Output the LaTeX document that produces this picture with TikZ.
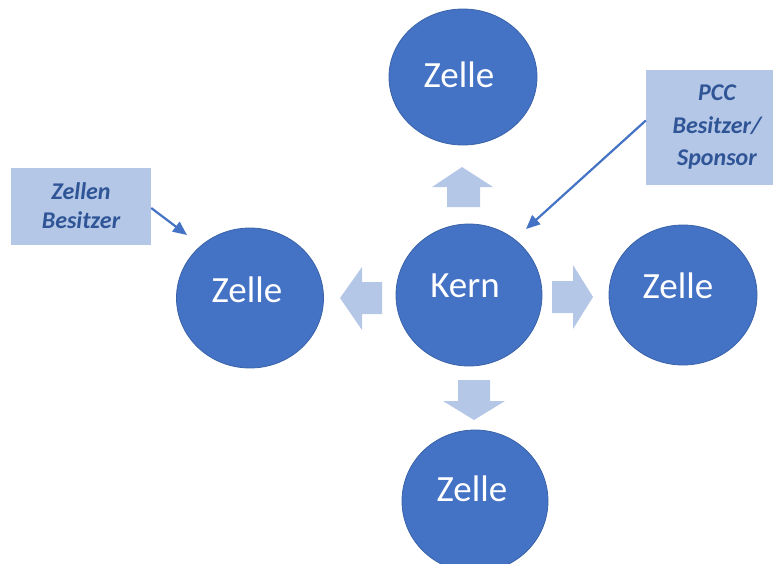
\documentclass[tikz,border=0pt]{standalone}
\usepackage{fontspec}
\setmainfont{Carlito}
\usetikzlibrary{shapes.geometric,arrows.meta}
\definecolor{cellblue}{HTML}{4472C4}
\definecolor{celledge}{HTML}{3A62A8}
\definecolor{lightblue}{HTML}{B4C7E7}
\definecolor{boxtext}{HTML}{2F5597}
\tikzset{
  cell/.style={ellipse, fill=cellblue, draw=celledge, line width=0.8pt, inner sep=0pt},
  celltext/.style={text=white, font=\fontsize{37}{40}\selectfont, inner sep=0pt},
  infobox/.style={rectangle, fill=lightblue, inner sep=0pt, align=center, text=boxtext},
  pointer/.style={draw=cellblue, line width=2.2pt, -{Triangle[length=14pt,width=12pt]}},
  blockarrow/.style={fill=lightblue}
}
\begin{document}
\begin{tikzpicture}[x=1pt,y=-1pt]
\useasboundingbox (0,0) rectangle (773,563);
% circles
\node[cell, minimum width=148pt, minimum height=136pt] (top) at (463,77) {};
\node[cell, minimum width=146pt, minimum height=142pt] (kern) at (469,295) {};
\node[cell, minimum width=147pt, minimum height=140pt] (left) at (250,298) {};
\node[cell, minimum width=148pt, minimum height=140pt] (right) at (683,295) {};
\node[cell, minimum width=146pt, minimum height=142pt] (bottom) at (475,501) {};
% texts
\node[celltext] (toptext) at (459,75) {Zelle};
\node[celltext] (kerntext) at (465,286) {Kern};
\node[celltext] (lefttext) at (247,290) {Zelle};
\node[celltext] (righttext) at (678,286) {Zelle};
\node[celltext] (bottomtext) at (472,489) {Zelle};
% block arrows
\fill[blockarrow] (447,207) -- (447,187) -- (432,187) -- (462,167) -- (493,187) -- (480,187) -- (480,207) -- cycle;
\fill[blockarrow] (382,282) -- (362,282) -- (362,267) -- (340,298) -- (362,330) -- (362,314) -- (382,314) -- cycle;
\fill[blockarrow] (552,281) -- (573,281) -- (573,265) -- (593,297) -- (573,329) -- (573,313) -- (552,313) -- cycle;
\fill[blockarrow] (458,380) -- (490,380) -- (490,401) -- (505,401) -- (474,420) -- (443,401) -- (458,401) -- cycle;
% info boxes
\node[infobox, minimum width=140pt, minimum height=77pt, font=\fontsize{24}{29}\selectfont\bfseries\itshape] (zb) at (81,206) {Zellen\\Besitzer};
\node[infobox, minimum width=142pt, minimum height=115pt, font=\fontsize{24}{32.5}\selectfont\bfseries\itshape] (pb) at (717,127.5) {PCC\\Besitzer/\\Sponsor};
% pointers
\coordinate (tipL) at (187,235);
\coordinate (tipR) at (526,229);
\draw[pointer] ([yshift=-2pt]zb.east) -- (tipL);
\draw[pointer] ([yshift=7pt]pb.west) -- (tipR);
\end{tikzpicture}
\end{document}
